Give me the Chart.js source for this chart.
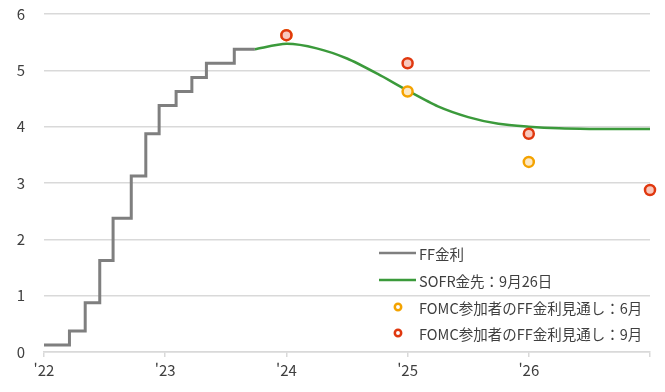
<!DOCTYPE html>
<html lang="ja">
<head>
<meta charset="utf-8">
<title>FF金利とSOFR金先</title>
<script src="https://cdn.jsdelivr.net/npm/chart.js@4/dist/chart.umd.min.js"></script>
<style>
  html, body { margin: 0; padding: 0; background: #fff; }
  #wrap { width: 665px; height: 392px; position: relative; }
</style>
</head>
<body>
<div id="wrap"><canvas id="grafico"></canvas></div>
<script>
// FF金利（誘導目標レンジの中央値）：変更日（年の小数）と水準
const ffDatas = [2022.0, 2022.21, 2022.34, 2022.46, 2022.57, 2022.72, 2022.84, 2022.95, 2023.09, 2023.22, 2023.34, 2023.57, 2023.74];
const ffTaxas = [0.125, 0.375, 0.875, 1.625, 2.375, 3.125, 3.875, 4.375, 4.625, 4.875, 5.125, 5.375, 5.375];

// SOFR金先（9月26日時点）
const sofrDatas = [2023.74, 2024.0, 2024.25, 2024.5, 2024.75, 2025.0, 2025.25, 2025.5, 2025.75, 2026.0, 2026.25, 2026.5, 2026.75, 2027.0];
const sofrTaxas = [5.375, 5.47, 5.39, 5.21, 4.94, 4.64, 4.36, 4.17, 4.05, 4.0, 3.97, 3.96, 3.96, 3.96];

// FOMC参加者の見通し（年末値、翌年の位置に表示）
const junhoAnos = [2024, 2025, 2026];
const junhoTaxas = [5.625, 4.625, 3.375];
const setembroAnos = [2024, 2025, 2026, 2027];
const setembroTaxas = [5.625, 5.125, 3.875, 2.875];

const rotulos = ["FF金利", "SOFR金先：9月26日", "FOMC参加者のFF金利見通し：6月", "FOMC参加者のFF金利見通し：9月"];

const FONTE = '"Noto Sans CJK JP", "Noto Sans", sans-serif';
const COR_TEXTO = "#3f3f3f";
const COR_GRADE = "#d9d9d9";

function pontos(xs, ys) {
    return xs.map((x, i) => ({ x, y: ys[i] }));
}

// legenda desenhada dentro da área do gráfico
const legendaInterna = {
    id: "legendaInterna",
    afterDatasetsDraw(chart) {
        const ctx = chart.ctx;
        const xTexto = 419;
        const ys = [253, 280, 307, 333];
        ctx.save();
        ctx.font = "14.5px " + FONTE;
        ctx.textBaseline = "middle";
        ctx.textAlign = "left";
        chart.data.datasets.forEach((ds, i) => {
            const y = ys[i];
            if (ds.showLine) {
                ctx.strokeStyle = ds.borderColor;
                ctx.lineWidth = 2.5;
                ctx.beginPath();
                ctx.moveTo(379, y);
                ctx.lineTo(416, y);
                ctx.stroke();
            } else {
                ctx.strokeStyle = ds.borderColor;
                ctx.fillStyle = "#fff";
                ctx.lineWidth = 2.5;
                ctx.beginPath();
                ctx.arc(398, y, 3.2, 0, Math.PI * 2);
                ctx.fill();
                ctx.stroke();
            }
            ctx.fillStyle = COR_TEXTO;
            ctx.fillText(ds.label, xTexto, y + 1);
        });
        ctx.restore();
    }
};

new Chart(document.getElementById("grafico"), {
    type: "scatter",
    data: {
        datasets: [
            {
                label: rotulos[0],
                data: pontos(ffDatas, ffTaxas),
                showLine: true,
                stepped: true,
                borderColor: "#7f7f7f",
                borderWidth: 3,
                pointRadius: 0,
                order: 3
            },
            {
                label: rotulos[1],
                data: pontos(sofrDatas, sofrTaxas),
                showLine: true,
                tension: 0.25,
                borderColor: "#3b9a3b",
                borderWidth: 2.5,
                pointRadius: 0,
                order: 2
            },
            {
                label: rotulos[2],
                data: pontos(junhoAnos, junhoTaxas),
                showLine: false,
                borderColor: "#f4a300",
                backgroundColor: "#fde8c4",
                borderWidth: 2.5,
                pointRadius: 5,
                clip: false,
                order: 1
            },
            {
                label: rotulos[3],
                data: pontos(setembroAnos, setembroTaxas),
                showLine: false,
                borderColor: "#e0380f",
                backgroundColor: "#f8c8bd",
                borderWidth: 2.5,
                pointRadius: 5,
                clip: false,
                order: 0
            }
        ]
    },
    options: {
        responsive: true,
        maintainAspectRatio: false,
        animation: false,
        layout: { padding: { top: 14, right: 15, bottom: 0, left: 0 } },
        plugins: {
            legend: { display: false },
            tooltip: { enabled: false }
        },
        scales: {
            x: {
                type: "linear",
                min: 2022,
                max: 2027,
                afterFit(scale) {
                    scale.height = 40;
                    scale.paddingLeft = 0;
                    scale.paddingRight = 0;
                },
                border: { display: true, color: COR_GRADE, width: 1.5 },
                grid: { drawOnChartArea: false, drawTicks: true, tickLength: 5, color: COR_GRADE, lineWidth: 1.5 },
                ticks: {
                    stepSize: 1,
                    padding: 4,
                    color: COR_TEXTO,
                    font: { family: FONTE, size: 15 },
                    callback: v => (v < 2027 ? "'" + String(v).slice(2) : "")
                }
            },
            y: {
                min: 0,
                max: 6,
                afterFit(scale) {
                    scale.width = 44;
                    scale.paddingTop = 0;
                    scale.paddingBottom = 0;
                },
                border: { display: false },
                grid: { color: COR_GRADE, lineWidth: 1.5, drawTicks: false },
                ticks: {
                    stepSize: 1,
                    padding: 19,
                    color: COR_TEXTO,
                    font: { family: FONTE, size: 15 }
                }
            }
        }
    },
    plugins: [legendaInterna]
});
</script>
</body>
</html>
